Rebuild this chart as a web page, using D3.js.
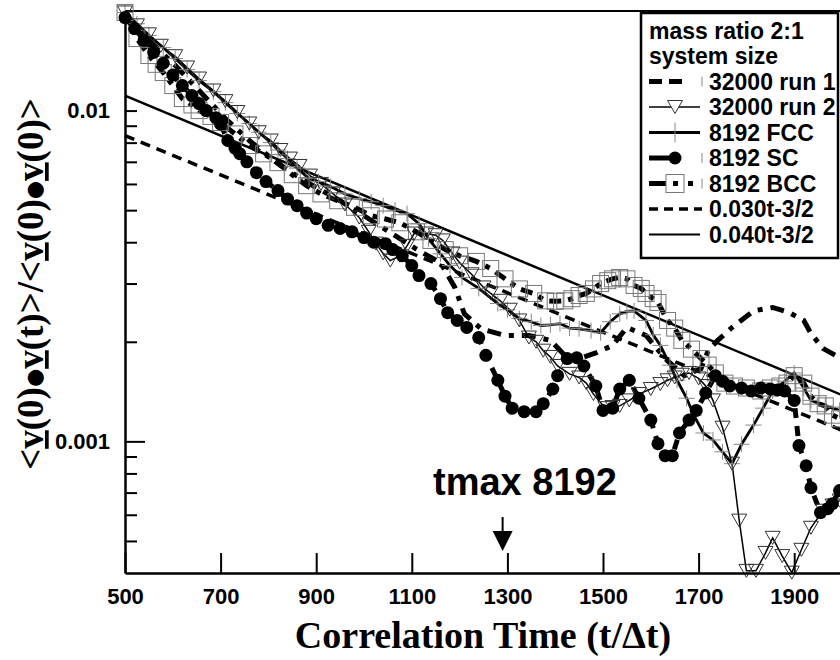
<!DOCTYPE html>
<html><head><meta charset="utf-8">
<script src="https://cdn.jsdelivr.net/npm/d3@7"></script>
<style>body{margin:0;background:#fff}</style>
</head><body><svg id="c" width="840" height="660"></svg>
<script>
// ---------- data ----------
const xTicks = [500, 700, 900, 1100, 1300, 1500, 1700, 1900];
const xTickLabels = ["500", "700", "900", "1100", "1300", "1500", "1700", "1900"];
const yMajorTicks = [0.01, 0.001];
const yTickLabels = ["0.01", "0.001"];
const yMinorTicks = [0.0005, 0.0006, 0.0007, 0.0008, 0.0009, 0.002, 0.003, 0.004, 0.005, 0.006, 0.007, 0.008, 0.009];
const legendTitle = ["mass ratio 2:1", "system size"];
const legendLabels = ["32000 run 1", "32000 run 2", "8192 FCC", "8192 SC", "8192 BCC", "0.030t-3/2", "0.040t-3/2"];
const tmaxLabel = "tmax 8192";
const tmaxT = 1290;

const fit030 = [[500, 0.0084], [2000, 0.00108]];
const fit040 = [[500, 0.0111], [2000, 0.00138]];

const run1 = [[500,0.0195],[550,0.0163],[605,0.0137],[655,0.0115],[710,0.00946],[760,0.00812],[825,0.00682],[885,0.00602],[950,0.00534],[1000,0.00481],[1055,0.00428],[1115,0.00377],[1160,0.00347],[1190,0.00292],[1210,0.00243],[1245,0.00219],[1295,0.00209],[1345,0.00209],[1390,0.00202],[1420,0.00182],[1450,0.00178],[1485,0.00185],[1520,0.00195],[1550,0.00221],[1590,0.00209],[1630,0.00178],[1670,0.00158],[1705,0.00166],[1720,0.00188],[1740,0.00202],[1770,0.00221],[1815,0.00248],[1855,0.00254],[1890,0.00245],[1920,0.00232],[1935,0.00212],[1960,0.00191],[1995,0.00179]];

const run2 = [[500,0.0198],[525,0.0181],[550,0.0170],[575,0.0157],[605,0.0146],[630,0.0135],[655,0.0125],[685,0.0115],[710,0.01068],[735,0.0099],[760,0.00914],[780,0.0086],[805,0.00812],[825,0.0076],[845,0.00716],[865,0.0068],[887,0.00636],[910,0.0060],[935,0.00561],[960,0.0052],[990,0.00475],[1010,0.0043],[1025,0.00396],[1040,0.0037],[1055,0.00352],[1075,0.00364],[1090,0.0039],[1105,0.00425],[1130,0.00425],[1150,0.0042],[1165,0.00405],[1185,0.0037],[1200,0.00347],[1225,0.0032],[1250,0.00292],[1265,0.0028],[1285,0.00266],[1305,0.0025],[1325,0.00232],[1345,0.00206],[1360,0.0020],[1375,0.00188],[1390,0.0018],[1405,0.00169],[1430,0.00160],[1450,0.00156],[1465,0.0015],[1480,0.00139],[1505,0.00126],[1520,0.00127],[1535,0.00128],[1555,0.00133],[1575,0.00139],[1600,0.00144],[1620,0.00149],[1635,0.00153],[1650,0.00156],[1665,0.00159],[1680,0.00161],[1700,0.00155],[1715,0.00147],[1730,0.00133],[1750,0.0011],[1770,0.000856],[1785,0.000576],[1800,0.000406],[1820,0.000406],[1840,0.00046],[1855,0.000511],[1875,0.00045],[1895,0.000401],[1915,0.00047],[1935,0.000548],[1960,0.000617],[1980,0.00064],[1995,0.000662]];

const fcc = [[500,0.0198],[525,0.0183],[550,0.01687],[580,0.0155],[605,0.01436],[630,0.0133],[655,0.01232],[685,0.0114],[710,0.01057],[735,0.0098],[760,0.00914],[780,0.0086],[805,0.0080],[820,0.0076],[840,0.00716],[860,0.0067],[885,0.00623],[905,0.0061],[930,0.00589],[960,0.0056],[990,0.00542],[1015,0.0053],[1040,0.00516],[1065,0.0050],[1090,0.00488],[1115,0.00455],[1135,0.0041],[1160,0.00369],[1180,0.0034],[1205,0.00313],[1240,0.0029],[1280,0.00261],[1300,0.0025],[1325,0.00235],[1350,0.0023],[1370,0.00224],[1390,0.00225],[1410,0.00227],[1430,0.0022],[1450,0.00219],[1475,0.00216],[1495,0.00213],[1515,0.0023],[1535,0.00243],[1550,0.00247],[1565,0.00248],[1590,0.00232],[1605,0.0021],[1620,0.00195],[1640,0.0017],[1655,0.00153],[1675,0.00135],[1690,0.0012],[1710,0.00106],[1730,0.00101],[1750,0.00093],[1770,0.000856],[1790,0.00098],[1815,0.00112],[1835,0.00126],[1855,0.00142],[1880,0.00152],[1900,0.00161],[1920,0.00145],[1935,0.00133],[1965,0.00128],[1995,0.00124]];

const sc = [[500,0.0191],[520,0.0177],[540,0.0163],[560,0.0150],[580,0.0139],[600,0.0128],[620,0.0119],[640,0.0111],[655,0.0105],[670,0.0100],[690,0.00952],[700,0.0091],[715,0.00812],[730,0.0077],[740,0.00741],[755,0.0070],[775,0.00649],[795,0.0061],[820,0.00573],[840,0.0054],[860,0.00516],[880,0.0049],[900,0.00471],[925,0.0045],[950,0.0044],[975,0.0043],[1000,0.00413],[1020,0.0040],[1045,0.00396],[1060,0.0038],[1080,0.00364],[1100,0.0034],[1115,0.00317],[1140,0.0030],[1160,0.0027],[1175,0.00245],[1195,0.00232],[1215,0.00221],[1240,0.00206],[1255,0.00182],[1280,0.00153],[1295,0.00137],[1310,0.00126],[1335,0.00123],[1360,0.00123],[1375,0.0013],[1395,0.00144],[1405,0.00158],[1425,0.00178],[1445,0.00179],[1460,0.00169],[1485,0.00147],[1500,0.00124],[1520,0.00126],[1535,0.00144],[1555,0.00153],[1575,0.00135],[1600,0.00116],[1615,0.000984],[1630,0.000905],[1645,0.000905],[1660,0.00106],[1680,0.00116],[1695,0.00124],[1715,0.0014],[1735,0.00158],[1750,0.00152],[1765,0.00147],[1790,0.00145],[1810,0.00142],[1830,0.00145],[1850,0.00144],[1865,0.00143],[1880,0.00142],[1900,0.00133],[1910,0.000971],[1925,0.000844],[1935,0.000724],[1955,0.000609],[1970,0.000626],[1980,0.000648],[1995,0.00071]];

const bcc = [[500,0.0198],[525,0.01651],[550,0.01467],[565,0.0138],[580,0.01303],[600,0.0119],[620,0.01087],[640,0.0104],[655,0.0100],[680,0.0096],[700,0.0092],[730,0.0085],[760,0.00784],[790,0.0074],[820,0.00696],[850,0.0064],[880,0.00593],[910,0.0056],[945,0.00534],[980,0.0051],[1015,0.00481],[1045,0.0047],[1075,0.00458],[1110,0.0043],[1140,0.00405],[1170,0.0038],[1200,0.00364],[1235,0.0035],[1265,0.00333],[1295,0.0031],[1325,0.00289],[1355,0.0028],[1380,0.00266],[1400,0.00265],[1420,0.00266],[1435,0.0027],[1450,0.00276],[1465,0.0028],[1480,0.00289],[1495,0.0030],[1510,0.00306],[1520,0.0031],[1535,0.00313],[1550,0.0031],[1565,0.00296],[1580,0.0029],[1590,0.0028],[1605,0.0027],[1615,0.00263],[1635,0.00232],[1650,0.0022],[1665,0.00202],[1685,0.0019],[1705,0.00178],[1720,0.0017],[1735,0.00161],[1755,0.0015],[1775,0.00147],[1800,0.00145],[1830,0.00142],[1850,0.00145],[1870,0.00147],[1885,0.0015],[1900,0.00158],[1920,0.0015],[1935,0.00137],[1950,0.0013],[1965,0.00128],[1980,0.0012],[1995,0.00117]];

// ---------- chart ----------
const svg = d3.select("#c");
svg.append("rect").attr("width", 840).attr("height", 660).attr("fill", "#fff");
const x = d3.scaleLinear().domain([500, 2000]).range([125, 842]);
const y = d3.scaleLog().domain([0.0004, 0.02]).range([573, 11]);
const line = d3.line().x(d => x(d[0])).y(d => y(d[1]));
const SANS = "'Liberation Sans', Arial, Helvetica, sans-serif";
const SERIF = "'Liberation Serif', 'Times New Roman', serif";

// top frame line
svg.append("line").attr("x1", x(500)).attr("x2", x(2000)).attr("y1", y(0.02)).attr("y2", y(0.02))
  .attr("stroke", "#000").attr("stroke-width", 2);

// fit lines
svg.append("path").datum(fit030).attr("d", line).attr("fill", "none").attr("stroke", "#000")
  .attr("stroke-width", 3.5).attr("stroke-dasharray", "10,7");
svg.append("path").datum(fit040).attr("d", line).attr("fill", "none").attr("stroke", "#000")
  .attr("stroke-width", 2.5);

// series lines
svg.append("path").datum(run2).attr("d", line).attr("fill", "none").attr("stroke", "#000").attr("stroke-width", 1.5);
svg.append("path").datum(fcc).attr("d", line).attr("fill", "none").attr("stroke", "#000").attr("stroke-width", 2.8);
svg.append("path").datum(bcc).attr("d", line).attr("fill", "none").attr("stroke", "#000").attr("stroke-width", 5)
  .attr("stroke-dasharray", "12,7,5,7");
svg.append("path").datum(run1).attr("d", line).attr("fill", "none").attr("stroke", "#000").attr("stroke-width", 5)
  .attr("stroke-dasharray", "14,8,5,8");
svg.append("path").datum(sc).attr("d", line).attr("fill", "none").attr("stroke", "#000").attr("stroke-width", 5)
  .attr("stroke-dasharray", "10,8");

// markers
const triPath = "M-7.5,-6.5L7.5,-6.5L0,6.5Z";
svg.append("g").selectAll("rect").data(bcc).join("rect")
  .attr("x", d => x(d[0]) - 8).attr("y", d => y(d[1]) - 8).attr("width", 16).attr("height", 16)
  .attr("fill", "none").attr("stroke", "#777").attr("stroke-width", 1);
svg.append("g").selectAll("path").data(fcc).join("path")
  .attr("transform", d => `translate(${x(d[0])},${y(d[1])})`).attr("d", "M-8,0H8M0,-8V8")
  .attr("stroke", "#888").attr("stroke-width", 1).attr("fill", "none");
svg.append("g").selectAll("path").data(run2).join("path")
  .attr("transform", d => `translate(${x(d[0])},${y(d[1])})`).attr("d", triPath)
  .attr("fill", "none").attr("stroke", "#333").attr("stroke-width", 1);
svg.append("g").selectAll("circle").data(sc).join("circle")
  .attr("cx", d => x(d[0])).attr("cy", d => y(d[1])).attr("r", 6.5).attr("fill", "#000");

// axes
const gx = svg.append("g").attr("transform", "translate(0,573)")
  .call(d3.axisBottom(x).tickValues(xTicks).tickFormat((d, i) => xTickLabels[i])
    .tickSize(-20).tickSizeOuter(0).tickPadding(15));
gx.select(".domain").attr("stroke-width", 2.5);
gx.selectAll(".tick line").attr("stroke-width", 2);
gx.selectAll("text").style("font-family", SANS).style("font-weight", "bold").style("font-size", "22px").attr("fill", "#000");

const gyMinor = svg.append("g").attr("transform", "translate(125,0)")
  .call(d3.axisLeft(y).tickValues(yMinorTicks).tickFormat("").tickSize(-12).tickSizeOuter(0));
gyMinor.select(".domain").remove();
gyMinor.selectAll(".tick line").attr("stroke-width", 2);

const gy = svg.append("g").attr("transform", "translate(125,0)")
  .call(d3.axisLeft(y).tickValues(yMajorTicks).tickFormat((d, i) => yTickLabels[i])
    .tickSize(-20).tickSizeOuter(0).tickPadding(15));
gy.select(".domain").attr("stroke-width", 2.5);
gy.selectAll(".tick line").attr("stroke-width", 2).attr("x2", d => d === 0.01 ? 12 : 20);
gy.selectAll("text").style("font-family", SANS).style("font-weight", "bold").style("font-size", "22px").attr("fill", "#000");

// axis titles
svg.append("text").attr("x", 483).attr("y", 648).attr("text-anchor", "middle")
  .style("font-family", SERIF).style("font-weight", "bold").style("font-size", "38px")
  .text("Correlation Time (t/\u0394t)");

const yl = svg.append("text").attr("transform", "translate(43,284) rotate(-90)").attr("text-anchor", "middle")
  .style("font-family", SERIF).style("font-weight", "bold").style("font-size", "37px");
const parts = [["<", 0], ["v", 1], ["(0)", 0], ["\u25CF", 2], ["v", 1], ["(t)>/<", 0], ["v", 1], ["(0)", 0], ["\u25CF", 2], ["v", 1], ["(0)>", 0]];
parts.forEach((p, i) => {
  const t = yl.append("tspan").text(p[0]);
  if (p[1] === 1) t.style("text-decoration", "underline");
  if (p[1] === 2) t.style("font-family", "'DejaVu Sans', sans-serif").style("font-size", "21px").attr("dy", -2);
  if (i > 0 && parts[i - 1][1] === 2) t.attr("dy", 2);
});

// tmax annotation
svg.append("text").attr("x", 433).attr("y", 495)
  .style("font-family", SANS).style("font-weight", "bold").style("font-size", "38px").text(tmaxLabel);
const ax = x(tmaxT);
svg.append("line").attr("x1", ax).attr("x2", ax).attr("y1", 517).attr("y2", 533).attr("stroke", "#000").attr("stroke-width", 2);
svg.append("path").attr("d", `M${ax - 10},531L${ax + 10},531L${ax},551Z`).attr("fill", "#000");

// legend
const lg = svg.append("g");
lg.append("rect").attr("x", 641).attr("y", 13).attr("width", 197).attr("height", 245)
  .attr("fill", "#fff").attr("stroke", "#000").attr("stroke-width", 2.5);
const base = i => 38.5 + 25.5 * i;
legendTitle.forEach((t, i) => lg.append("text").attr("x", 649).attr("y", base(i)).text(t)
  .style("font-family", SANS).style("font-weight", "bold").style("font-size", "23px"));
legendLabels.forEach((t, i) => lg.append("text").attr("x", 709).attr("y", base(i + 2)).text(t)
  .style("font-family", SANS).style("font-weight", "bold").style("font-size", "23px"));
const cy = i => base(i + 2) - 8;
const seg = (x1, x2, yy, w, dash) => {
  const l = lg.append("line").attr("x1", x1).attr("x2", x2).attr("y1", yy).attr("y2", yy)
    .attr("stroke", "#000").attr("stroke-width", w);
  if (dash) l.attr("stroke-dasharray", dash);
};
const tick = (xx, yy, h) => lg.append("line").attr("x1", xx).attr("x2", xx).attr("y1", yy - h / 2).attr("y2", yy + h / 2)
  .attr("stroke", "#888").attr("stroke-width", 1);
// run1
seg(649, 684, cy(0), 5, "13,7"); tick(702, cy(0), 10);
// run2
seg(649, 700, cy(1), 1.5);
lg.append("path").attr("transform", `translate(675,${cy(1)})`).attr("d", triPath).attr("fill", "#fff").attr("stroke", "#333");
// fcc
seg(649, 700, cy(2), 2.8); tick(675, cy(2), 20);
// sc
seg(649, 670, cy(3), 5); lg.append("circle").attr("cx", 675).attr("cy", cy(3)).attr("r", 6.5).attr("fill", "#000"); tick(702, cy(3), 10);
// bcc
seg(649, 667, cy(4), 5);
lg.append("rect").attr("x", 666).attr("y", cy(4) - 9).attr("width", 18).attr("height", 18).attr("fill", "#fff").attr("stroke", "#777");
lg.append("rect").attr("x", 673).attr("y", cy(4) - 2.5).attr("width", 5).attr("height", 5).attr("fill", "#000");
lg.append("rect").attr("x", 688).attr("y", cy(4) - 2.5).attr("width", 5).attr("height", 5).attr("fill", "#000");
tick(702, cy(4), 10);
// fits
seg(649, 702, cy(5), 3.5, "9,6");
seg(649, 700, cy(6), 2);
</script></body></html>
